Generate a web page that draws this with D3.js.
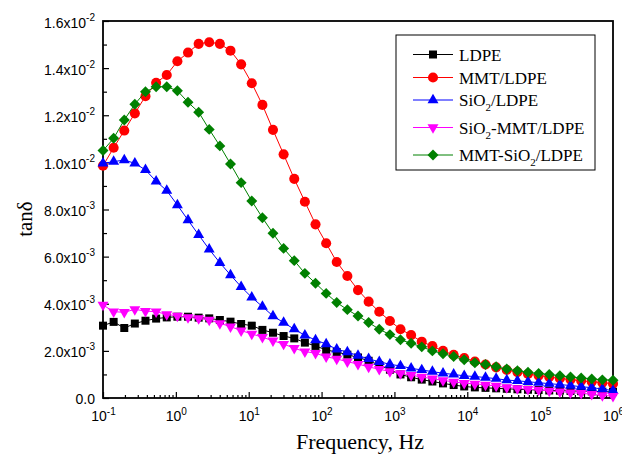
<!DOCTYPE html>
<html>
<head>
<meta charset="utf-8">
<script src="https://cdn.jsdelivr.net/npm/d3@7"></script>
<style>
    body { margin: 0; background: #fff; }
    svg { display: block; }
    .tick-label { font-family: "Liberation Sans", Arial, sans-serif; font-size: 14px; fill: #000; }
    .legend-text { font-family: "Liberation Serif", "Times New Roman", serif; font-size: 17px; fill: #000; }
</style>
</head>
<body>
<script>
// log10 of the measured frequencies (Hz)
var logFreq = [-1, -0.854, -0.708, -0.563, -0.417, -0.271, -0.125, 0.021, 0.167, 0.313,
    0.458, 0.604, 0.75, 0.896, 1.042, 1.188, 1.333, 1.479, 1.625, 1.771,
    1.917, 2.063, 2.208, 2.354, 2.5, 2.646, 2.792, 2.938, 3.083, 3.229,
    3.375, 3.521, 3.667, 3.813, 3.958, 4.104, 4.25, 4.396, 4.542, 4.688,
    4.833, 4.979, 5.125, 5.271, 5.417, 5.563, 5.708, 5.854, 6];

// tan delta values, in units of 1e-3
var ldpe = [3.07, 3.23, 2.97, 3.16, 3.28, 3.37, 3.42, 3.45, 3.45, 3.41,
    3.38, 3.31, 3.24, 3.14, 3.07, 2.89, 2.77, 2.63, 2.53, 2.35,
    2.21, 2.04, 1.95, 1.84, 1.72, 1.58, 1.40, 1.20, 1.00, 0.88,
    0.78, 0.70, 0.62, 0.55, 0.49, 0.45, 0.43, 0.41, 0.39, 0.37,
    0.35, 0.34, 0.32, 0.31, 0.30, 0.29, 0.28, 0.27, 0.26];
var mmtLdpe = [9.86, 10.62, 11.35, 12.08, 12.81, 13.38, 13.71, 14.29, 14.66, 15.03,
    15.10, 15.03, 14.74, 14.16, 13.36, 12.44, 11.38, 10.34, 9.30, 8.33,
    7.37, 6.57, 5.77, 5.18, 4.58, 4.09, 3.66, 3.27, 2.92, 2.67,
    2.39, 2.20, 2.00, 1.83, 1.70, 1.55, 1.42, 1.30, 1.19, 1.10,
    1.02, 0.95, 0.89, 0.83, 0.78, 0.73, 0.69, 0.65, 0.61];
var sio2Ldpe = [9.96, 10.03, 10.10, 9.96, 9.68, 9.20, 8.80, 8.19, 7.55, 6.92,
    6.31, 5.74, 5.22, 4.72, 4.27, 3.88, 3.48, 3.20, 2.92, 2.66,
    2.46, 2.29, 2.07, 1.95, 1.80, 1.66, 1.54, 1.43, 1.36, 1.26,
    1.19, 1.12, 1.05, 1.00, 0.94, 0.91, 0.87, 0.82, 0.76, 0.73,
    0.69, 0.65, 0.61, 0.57, 0.53, 0.48, 0.44, 0.38, 0.31];
var sio2MmtLdpe = [3.95, 3.66, 3.64, 3.76, 3.69, 3.66, 3.55, 3.48, 3.42, 3.38,
    3.31, 3.17, 3.03, 2.86, 2.72, 2.58, 2.43, 2.29, 2.11, 1.97,
    1.90, 1.75, 1.66, 1.54, 1.44, 1.32, 1.22, 1.13, 1.04, 0.97,
    0.89, 0.82, 0.75, 0.68, 0.63, 0.60, 0.56, 0.51, 0.45, 0.41,
    0.37, 0.34, 0.30, 0.27, 0.23, 0.20, 0.16, 0.11, 0.08];
var mmtSio2Ldpe = [10.50, 11.02, 11.80, 12.47, 13.00, 13.21, 13.21, 13.04, 12.55, 12.13,
    11.40, 10.70, 9.93, 9.14, 8.36, 7.65, 6.99, 6.35, 5.83, 5.29,
    4.87, 4.44, 4.05, 3.75, 3.48, 3.20, 2.92, 2.69, 2.47, 2.32,
    2.17, 2.00, 1.88, 1.76, 1.62, 1.50, 1.42, 1.33, 1.23, 1.16,
    1.09, 1.04, 1.00, 0.94, 0.89, 0.85, 0.81, 0.77, 0.75];

var seriesNames = [["LDPE"], ["MMT/LDPE"], ["SiO", "2", "/LDPE"], ["SiO", "2", "-MMT/LDPE"], ["MMT-SiO", "2", "/LDPE"]];
var seriesValues = [ldpe, mmtLdpe, sio2Ldpe, sio2MmtLdpe, mmtSio2Ldpe];
var seriesColors = ["#000000", "#ff0000", "#0000ff", "#ff00ff", "#008000"];
var seriesSymbols = ["square", "circle", "triangle", "triangleDown", "diamond"];

var xTickExp = [-1, 0, 1, 2, 3, 4, 5, 6];
var yTicks = [0, 0.002, 0.004, 0.006, 0.008, 0.010, 0.012, 0.014, 0.016];
var yTickLabels = [["0.0", ""], ["2.0x10", "-3"], ["4.0x10", "-3"], ["6.0x10", "-3"], ["8.0x10", "-3"],
    ["1.0x10", "-2"], ["1.2x10", "-2"], ["1.4x10", "-2"], ["1.6x10", "-2"]];

var width = 622, height = 457;
var margins = {top: 21, left: 103, right: 9, bottom: 59};
var serif = "'Liberation Serif', 'Times New Roman', serif";

var svg = d3.select("body").append("svg")
    .attr("width", width)
    .attr("height", height);

var x = d3.scaleLog()
    .domain([0.1, 1e6])
    .range([margins.left, width - margins.right]);
var y = d3.scaleLinear()
    .domain([0, 0.016])
    .range([height - margins.bottom, margins.top]);

// diamond as a square turned 45 degrees
var diamond = {
    draw: function (ctx, size) {
        var r = Math.sqrt(size / 2);
        ctx.moveTo(0, -r);
        ctx.lineTo(r, 0);
        ctx.lineTo(0, r);
        ctx.lineTo(-r, 0);
        ctx.closePath();
    }
};

function symbolPath(kind) {
    if (kind == "square") return d3.symbol().type(d3.symbolSquare).size(64)();
    if (kind == "circle") return d3.symbol().type(d3.symbolCircle).size(80)();
    if (kind == "diamond") return d3.symbol().type(diamond).size(60)();
    return d3.symbol().type(d3.symbolTriangle).size(52)();
}

function symbolTransform(kind, px, py) {
    var t = "translate(" + px + "," + py + ")";
    if (kind == "triangleDown") t += " rotate(180)";
    return t;
}

// axes
var xAxis = d3.axisBottom(x)
    .tickValues(xTickExp.map(function (e) { return Math.pow(10, e); }))
    .tickSizeInner(-6)
    .tickSizeOuter(0)
    .tickFormat(function () { return ""; });

var minorX = [];
for (var e = -1; e < 6; e++) {
    for (var m = 2; m < 10; m++) minorX.push(m * Math.pow(10, e));
}
var xMinor = d3.axisBottom(x).tickValues(minorX).tickSize(-3).tickFormat(function () { return ""; });

var xG = svg.append("g")
    .attr("class", "x axis")
    .attr("transform", "translate(0," + y(0) + ")")
    .call(xAxis);
svg.append("g")
    .attr("transform", "translate(0," + y(0) + ")")
    .call(xMinor)
    .select(".domain").remove();

xG.selectAll(".tick").each(function (d, i) {
    var t = d3.select(this).append("text")
        .attr("class", "tick-label")
        .attr("y", 23)
        .attr("text-anchor", "middle");
    t.append("tspan").text("10");
    t.append("tspan").attr("dy", -6).attr("font-size", "10px").text(xTickExp[i]);
});

var yAxis = d3.axisLeft(y)
    .tickValues(yTicks)
    .tickSizeInner(-6)
    .tickSizeOuter(0)
    .tickFormat(function () { return ""; });
var yMinor = d3.axisLeft(y)
    .tickValues(d3.range(1, 16, 2).map(function (v) { return v / 1000; }))
    .tickSize(-4)
    .tickFormat(function () { return ""; });

var yG = svg.append("g")
    .attr("class", "y axis")
    .attr("transform", "translate(" + x(0.1) + ",0)")
    .call(yAxis);
svg.append("g")
    .attr("transform", "translate(" + x(0.1) + ",0)")
    .call(yMinor)
    .select(".domain").remove();

yG.selectAll(".tick").each(function (d, i) {
    var lab = yTickLabels[i];
    var t = d3.select(this).append("text")
        .attr("class", "tick-label")
        .attr("x", -8)
        .attr("y", i == 0 ? 5 : 6)
        .attr("text-anchor", "end");
    t.append("tspan").text(lab[0]);
    if (lab[1]) t.append("tspan").attr("dy", -7).attr("font-size", "10px").text(lab[1]);
});

svg.selectAll("g line").attr("stroke", "#000").attr("stroke-width", 1.2);
svg.selectAll(".domain").attr("stroke", "none");

// frame
svg.append("rect")
    .attr("x", x(0.1))
    .attr("y", y(0.016))
    .attr("width", x(1e6) - x(0.1))
    .attr("height", y(0) - y(0.016))
    .attr("fill", "none")
    .attr("stroke", "#000")
    .attr("stroke-width", 1.8);

// series
var line = d3.line()
    .x(function (d, i) { return x(Math.pow(10, logFreq[i])); })
    .y(function (d) { return y(d / 1000); });

seriesValues.forEach(function (vals, k) {
    var g = svg.append("g").attr("class", "series");
    g.append("path")
        .datum(vals)
        .attr("d", line)
        .attr("fill", "none")
        .attr("stroke", seriesColors[k])
        .attr("stroke-width", 1);
    g.selectAll(".pt").data(vals).enter().append("path")
        .attr("class", "pt")
        .attr("d", symbolPath(seriesSymbols[k]))
        .attr("transform", function (d, i) {
            return symbolTransform(seriesSymbols[k], x(Math.pow(10, logFreq[i])), y(d / 1000));
        })
        .attr("fill", seriesColors[k]);
});

// legend
var legendRows = [54.5, 77.5, 100, 127.5, 155];
var legend = svg.append("g").attr("class", "legend");
legend.append("rect")
    .attr("x", 396).attr("y", 35)
    .attr("width", 199).attr("height", 135)
    .attr("fill", "#fff")
    .attr("stroke", "#000")
    .attr("stroke-width", 1);

seriesNames.forEach(function (name, k) {
    var ly = legendRows[k];
    legend.append("line")
        .attr("x1", 413).attr("x2", 453)
        .attr("y1", ly).attr("y2", ly)
        .attr("stroke", seriesColors[k])
        .attr("stroke-width", 1);
    legend.append("path")
        .attr("d", symbolPath(seriesSymbols[k]))
        .attr("transform", symbolTransform(seriesSymbols[k], 433, ly))
        .attr("fill", seriesColors[k]);
    var t = legend.append("text")
        .attr("class", "legend-text")
        .attr("x", 459)
        .attr("y", ly + 6);
    t.append("tspan").text(name[0]);
    if (name.length > 1) {
        t.append("tspan").attr("dy", 5).attr("font-size", "11px").text(name[1]);
        t.append("tspan").attr("dy", -5).text(name[2]);
    }
});

// axis titles
svg.append("text")
    .attr("x", 360)
    .attr("y", 449)
    .attr("text-anchor", "middle")
    .attr("font-family", serif)
    .attr("font-size", "22px")
    .attr("fill", "#000")
    .text("Frequency, Hz");

svg.append("text")
    .attr("transform", "translate(32," + 219 + ") rotate(-90)")
    .attr("text-anchor", "middle")
    .attr("font-family", serif)
    .attr("font-size", "21px")
    .attr("fill", "#000")
    .text("tanδ");
</script>
</body>
</html>
